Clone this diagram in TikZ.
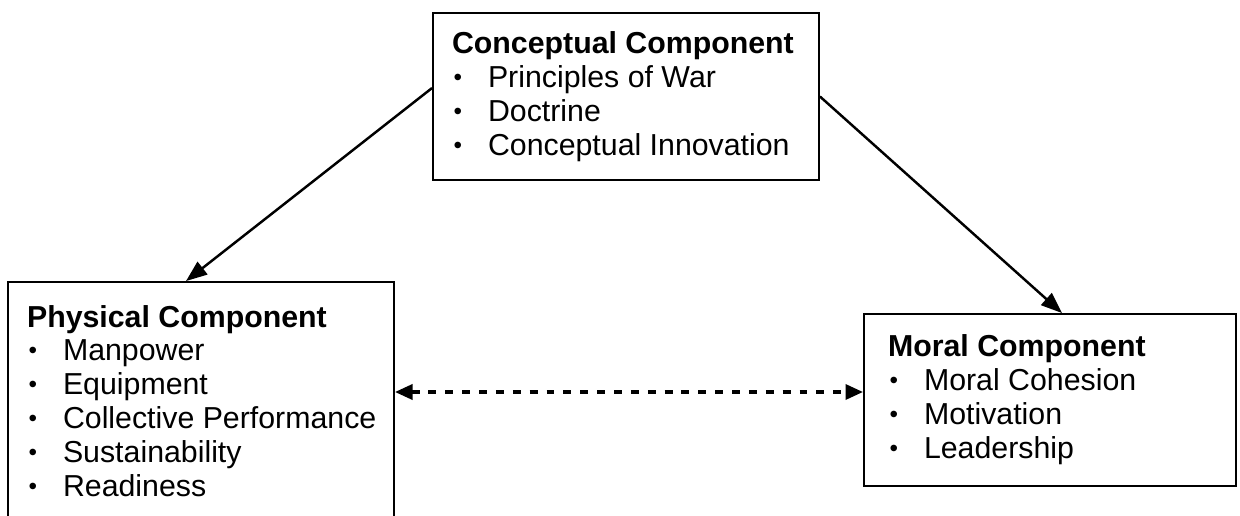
\documentclass[tikz,border=0pt]{standalone}
\usepackage{fontspec}
\setmainfont{Liberation Sans}
\usepackage{tikz}
\usetikzlibrary{arrows.meta}
\tikzstyle{compbox} = [draw=black, fill=white, line width=1.1pt,
    rectangle, inner sep=0pt, font=\fontsize{17.25}{19.3}\selectfont]
\tikzstyle{linkarrow} = [line width=1.4pt, -{Triangle[length=12pt, width=9pt]}]
\tikzstyle{mutualarrow} = [line width=2pt, dash pattern=on 4.5pt off 5.1pt,
    {Triangle[length=10pt, width=8.5pt]}-{Triangle[length=10pt, width=8.5pt]}]
\newcommand{\comptitle}[1]{\noindent\mbox{\textbf{#1}}}
\newcommand{\compitem}[1]{\par\noindent\makebox[0.72cm][l]{\hspace{0.03cm}\raisebox{0.07em}{\scalebox{0.8}{\textbullet}}}\mbox{#1}}

\begin{document}
\begin{tikzpicture}[x=0.02cm, y=-0.02cm]
                \useasboundingbox (0,0) rectangle (1240,516);
                \clip (0,0) rectangle (1240,516);
                \node [compbox, minimum width=7.72cm, minimum height=3.34cm] (concept) at (626,96.5) {%
                    \begin{minipage}{6.96cm}
                        \comptitle{Conceptual Component}
                        \compitem{Principles of War}
                        \compitem{Doctrine}
                        \compitem{Conceptual Innovation}
                    \end{minipage}
                };
                \node [compbox, minimum width=7.72cm, minimum height=4.76cm] (phys) at (201,401) {%
                    \begin{minipage}{6.96cm}
                        \comptitle{Physical Component}
                        \compitem{Manpower}
                        \compitem{Equipment}
                        \compitem{Collective Performance}
                        \compitem{Sustainability}
                        \compitem{Readiness}
                    \end{minipage}
                };
                \node [compbox, minimum width=7.44cm, minimum height=3.44cm] (moral) at (1050,400) {%
                    \begin{minipage}{6.48cm}
                        \comptitle{Moral Component}
                        \compitem{Moral Cohesion}
                        \compitem{Motivation}
                        \compitem{Leadership}
                    \end{minipage}
                };
                \coordinate (mutual) at (0,392);
                \draw [linkarrow] ([yshift=0.17cm]concept.west) -- ([xshift=-0.3cm]phys.north);
                \draw [linkarrow] (concept.east) -- ([xshift=0.24cm]moral.north);
                \draw [mutualarrow] (phys.east |- mutual) -- (moral.west |- mutual);
            \end{tikzpicture}
\end{document}
